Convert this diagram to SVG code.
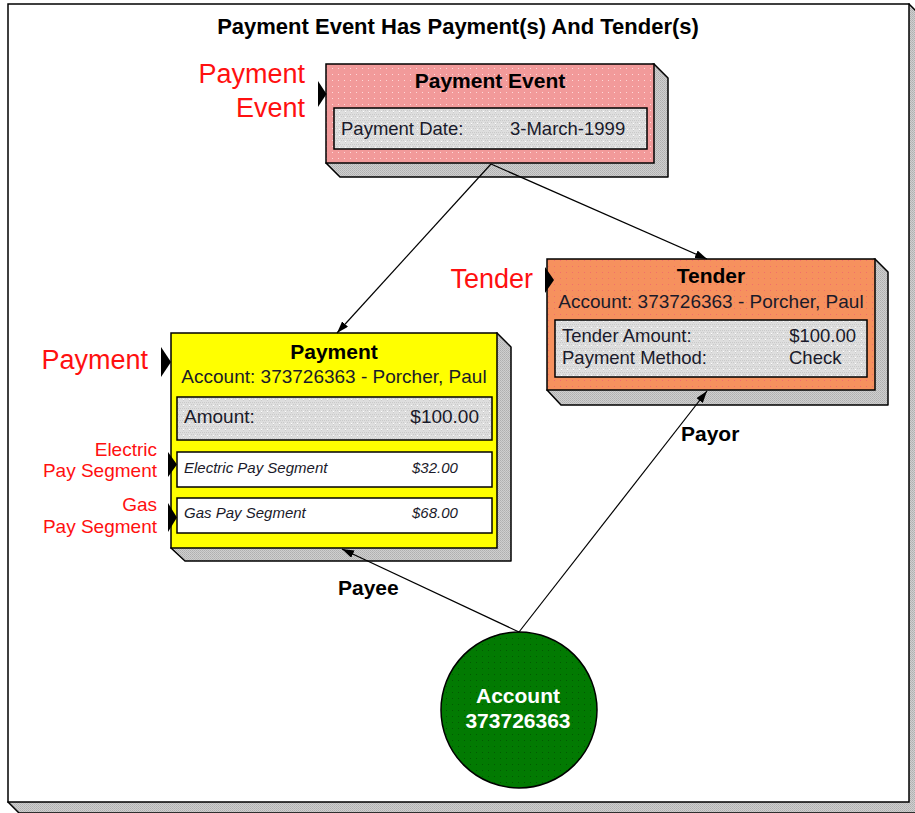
<svg xmlns="http://www.w3.org/2000/svg" width="915" height="813" viewBox="0 0 915 813">
<defs>
  <pattern id="pShadow" width="2" height="2" patternUnits="userSpaceOnUse">
    <rect width="2" height="2" fill="#CFCFCF"/>
    <rect width="1" height="1" fill="#AFAFAF"/>
    <rect x="1" y="1" width="1" height="1" fill="#B8B8B8"/>
  </pattern>
  <pattern id="pPink" width="6" height="6" patternUnits="userSpaceOnUse">
    <rect width="6" height="6" fill="#F29A9A"/>
    <rect x="2" y="2" width="1" height="1" fill="#FFD8D8"/>
  </pattern>
  <pattern id="pOrange" width="6" height="6" patternUnits="userSpaceOnUse">
    <rect width="6" height="6" fill="#F6915E"/>
    <rect x="2" y="2" width="1" height="1" fill="#F0706A"/>
  </pattern>
  <pattern id="pInner" width="6" height="6" patternUnits="userSpaceOnUse">
    <rect width="6" height="6" fill="#DEDEDE"/>
    <rect x="0" y="0" width="1" height="1" fill="#CACACA"/>
    <rect x="2" y="0" width="1" height="1" fill="#CACACA"/>
    <rect x="4" y="0" width="1" height="1" fill="#CACACA"/>
    <rect x="1" y="2" width="1" height="1" fill="#CACACA"/>
    <rect x="3" y="4" width="1" height="1" fill="#CACACA"/>
    <rect x="5" y="2" width="1" height="1" fill="#CACACA"/>
    <rect x="3" y="3" width="1" height="1" fill="#FFFFFF"/>
  </pattern>
  <pattern id="pGreen" width="6" height="6" patternUnits="userSpaceOnUse">
    <rect width="6" height="6" fill="#027A02"/>
    <rect x="2" y="2" width="1" height="1" fill="#015A01"/>
  </pattern>
  <marker id="arr" viewBox="0 0 12 8" refX="12" refY="4" markerWidth="12" markerHeight="8" markerUnits="userSpaceOnUse" orient="auto">
    <path d="M0,0 L12,4 L0,8 Z" fill="#000"/>
  </marker>
</defs>
<style>
  .box { stroke: #000; stroke-width: 1.5; }
  .shadow { fill: url(#pShadow); stroke: #000; stroke-width: 1.5; stroke-linejoin: round; }
  .inner { fill: url(#pInner); stroke: #000; stroke-width: 1.5; }
  .seg { fill: #FFFFFF; stroke: #000; stroke-width: 1.5; }
  .t { font-family: "Liberation Sans", Arial, sans-serif; fill: #1A1A2A; }
  .b { font-weight: bold; fill: #000; }
  .red { font-family: "Liberation Sans", Arial, sans-serif; fill: #FF1010; }
  .tag { fill: #000; }
  .conn { stroke: #000; stroke-width: 1.2; fill: none; marker-end: url(#arr); }
</style>

<g id="frame">
  <polygon class="shadow" points="909,4 920,15 920,813 19,813 8,802"/>
  <rect x="8" y="4" width="901" height="798" fill="#FFFFFF" stroke="#000" stroke-width="1.5"/>
  <text class="t b" x="458" y="34" font-size="22" text-anchor="middle">Payment Event Has Payment(s) And Tender(s)</text>
</g>

<g id="payment-event">
  <polygon class="shadow" points="654,64 668,78 668,177 340,177 326,163"/>
  <rect class="box" x="326" y="64" width="328" height="99" fill="url(#pPink)"/>
  <rect class="inner" x="334" y="108" width="313" height="41"/>
  <text class="t b" x="490" y="88" font-size="21" text-anchor="middle">Payment Event</text>
  <text class="t" x="341" y="135" font-size="18.5">Payment Date:</text>
  <text class="t" x="510" y="135" font-size="18.5">3-March-1999</text>
  <polygon class="tag" points="318,81 326.5,94 318,107"/>
  <text class="red" x="305" y="83" font-size="27" text-anchor="end">Payment</text>
  <text class="red" x="305" y="117" font-size="27" text-anchor="end">Event</text>
</g>

<g id="tender">
  <polygon class="shadow" points="875,259 888,272 888,405 561,405 547,390"/>
  <rect class="box" x="547" y="259" width="328" height="131" fill="url(#pOrange)"/>
  <rect class="inner" x="555" y="320" width="312" height="57"/>
  <text class="t b" x="711" y="283" font-size="21" text-anchor="middle">Tender</text>
  <text class="t" x="711" y="308" font-size="19" text-anchor="middle">Account: 373726363 - Porcher, Paul</text>
  <text class="t" x="562" y="342" font-size="18.5">Tender Amount:</text>
  <text class="t" x="856" y="342" font-size="18.5" text-anchor="end">$100.00</text>
  <text class="t" x="562" y="364" font-size="18.5">Payment Method:</text>
  <text class="t" x="789" y="364" font-size="18.5">Check</text>
  <polygon class="tag" points="545,267 554,280 545,293"/>
  <text class="red" x="533" y="288" font-size="27" text-anchor="end">Tender</text>
</g>

<g id="payment">
  <polygon class="shadow" points="497,333 511,347 511,561 185,561 171,548"/>
  <rect class="box" x="171" y="333" width="326" height="215" fill="#FFFF00"/>
  <text class="t b" x="334" y="359" font-size="21" text-anchor="middle">Payment</text>
  <text class="t" x="334" y="383" font-size="19" text-anchor="middle">Account: 373726363 - Porcher, Paul</text>
  <rect class="inner" x="177" y="397" width="315" height="43"/>
  <text class="t" x="184" y="423" font-size="19">Amount:</text>
  <text class="t" x="479" y="423" font-size="19" text-anchor="end">$100.00</text>
  <polygon class="tag" points="161,347 171,362 161,377"/>
  <text class="red" x="148" y="369" font-size="27" text-anchor="end">Payment</text>
</g>

<g id="electric-pay-segment">
  <rect class="seg" x="177" y="452" width="315" height="35"/>
  <text class="t" x="184" y="473" font-size="15" font-style="italic">Electric Pay Segment</text>
  <text class="t" x="412" y="473" font-size="15" font-style="italic">$32.00</text>
  <polygon class="tag" points="168,452 177,464.5 168,477"/>
  <text class="red" x="157" y="456" font-size="19" text-anchor="end">Electric</text>
  <text class="red" x="157" y="477" font-size="19" text-anchor="end">Pay Segment</text>
</g>

<g id="gas-pay-segment">
  <rect class="seg" x="177" y="498" width="315" height="35"/>
  <text class="t" x="184" y="518" font-size="15" font-style="italic">Gas Pay Segment</text>
  <text class="t" x="412" y="518" font-size="15" font-style="italic">$68.00</text>
  <polygon class="tag" points="168,503 177,517.5 168,532"/>
  <text class="red" x="157" y="511" font-size="19" text-anchor="end">Gas</text>
  <text class="red" x="157" y="533" font-size="19" text-anchor="end">Pay Segment</text>
</g>

<g id="account">
  <circle cx="519" cy="710" r="78" fill="url(#pGreen)" stroke="#000" stroke-width="1.5"/>
  <text class="t b" x="518" y="703" font-size="21" text-anchor="middle" style="fill:#FFFFFF">Account</text>
  <text class="t b" x="518" y="728" font-size="21" text-anchor="middle" style="fill:#FFFFFF">373726363</text>
</g>

<g id="connectors">
  <line class="conn" x1="491" y1="164" x2="337" y2="333"/>
  <line class="conn" x1="491" y1="164" x2="707" y2="259"/>
  <line class="conn" x1="519" y1="632" x2="342" y2="549"/>
  <line class="conn" x1="519" y1="632" x2="707" y2="391"/>
  <text class="t b" x="338" y="595" font-size="21">Payee</text>
  <text class="t b" x="681" y="441" font-size="21">Payor</text>
</g>
</svg>
